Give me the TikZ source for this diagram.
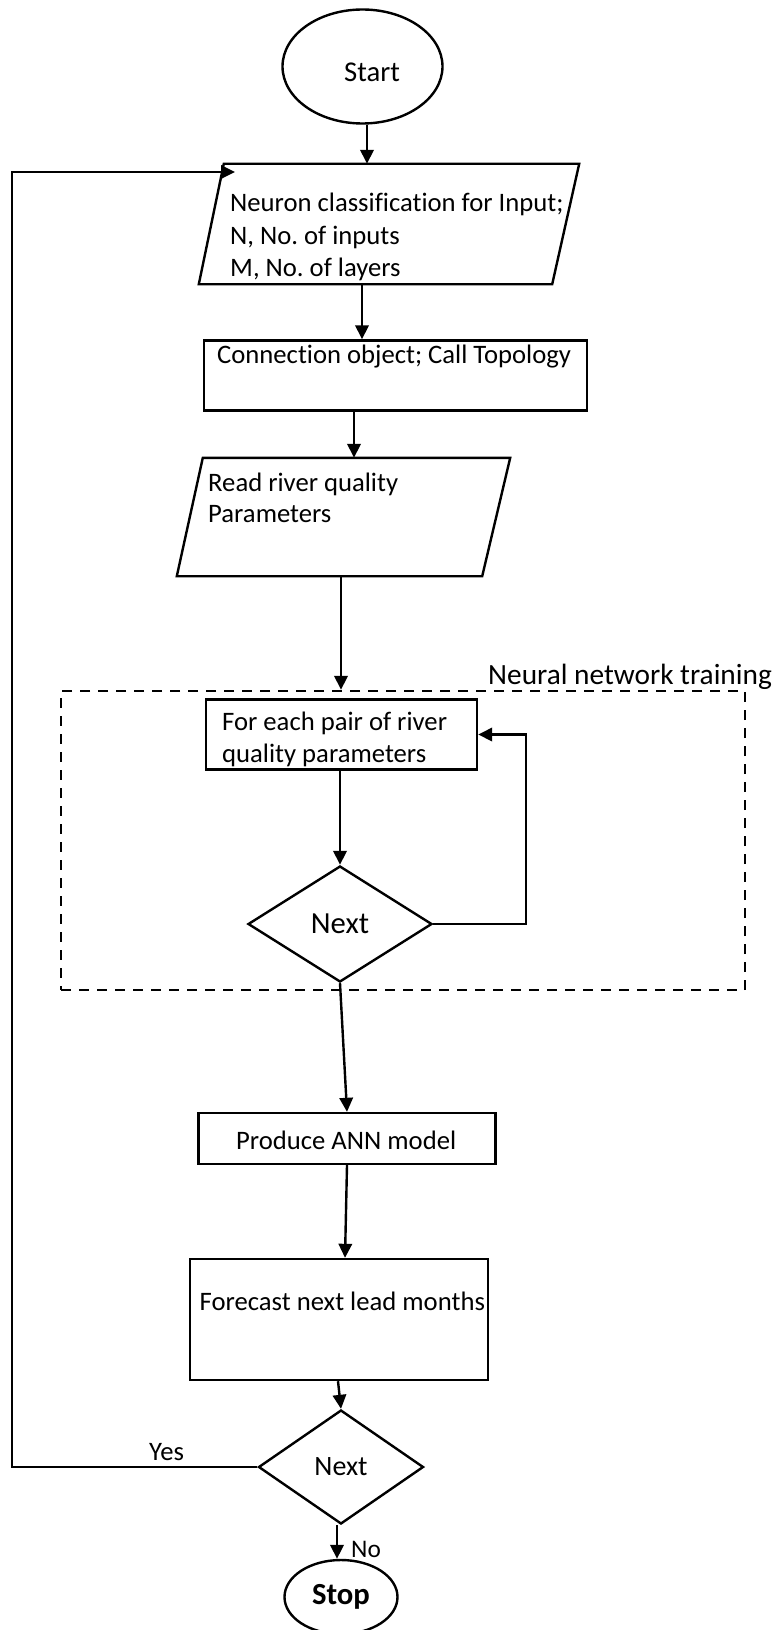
\documentclass[tikz,border=0pt]{standalone}
\usepackage{fontspec}
\setmainfont{Carlito}[Ligatures=NoCommon]
\usetikzlibrary{shapes.geometric,arrows.meta,calc}
\frenchspacing

\begin{document}
\begin{tikzpicture}[x=0.75pt,y=-0.75pt,
  line width=1.8pt,
  arr/.style={-{Triangle[length=10.5pt,width=10pt]}},
  box/.style={draw, rectangle, inner sep=0pt},
  frame/.style={rectangle, inner sep=0pt},
  term/.style={draw, ellipse, inner sep=0pt},
  decision/.style={draw, diamond, inner sep=0pt},
  txt/.style={anchor=base west, inner sep=0pt, font=\fontsize{20pt}{24pt}\selectfont},
]
\useasboundingbox (0,0) rectangle (772,1630);

% terminals, boxes and decisions
\node[term, minimum width=120pt, minimum height=85.5pt] (start) at (362.5,66.5) {};
\node[txt, font=\fontsize{21.5pt}{26pt}\selectfont] (startlbl) at (343,81.7) {Start};

% input parallelogram: frame node holds the outline's bounding box
\node[frame, minimum width=283.5pt, minimum height=88.5pt] (neuron) at (389,224) {};
\draw ($(neuron.north west)+(25,0)$) -- (neuron.north east)
      -- ($(neuron.south east)-(27,0)$) -- (neuron.south west) -- cycle;
\node[txt] (neuron1) at (229,211.7) {Neuron classification for Input;};
\node[txt] (neuron2) at (229,244.3) {N, No. of inputs};
\node[txt] (neuron3) at (229,276.7) {M, No. of layers};

\node[box, minimum width=287.25pt, minimum height=52.5pt] (conn) at (395.5,375.5) {};
\node[txt] (connlbl) at (216,363.3) {Connection object; Call Topology};

\node[frame, minimum width=248.25pt, minimum height=87pt] (read) at (343.5,517) {};
\draw ($(read.north west)+(26,0)$) -- (read.north east)
      -- ($(read.south east)-(28,0)$) -- (read.south west) -- cycle;
\node[txt] (read1) at (207,491) {Read river quality};
\node[txt] (read2) at (207,522.7) {Parameters};

% training block
\node[draw, rectangle, dash pattern=on 7.5pt off 6pt, inner sep=0pt,
      minimum width=513pt, minimum height=224.25pt] (train) at (403,840.5) {};
\node[txt, font=\fontsize{22pt}{26pt}\selectfont] (trainlbl) at (487,684) {Neural network training};

\node[box, minimum width=203.25pt, minimum height=52.5pt] (each) at (341.5,734.5) {};
\node[txt] (each1) at (221,730) {For each pair of river};
\node[txt] (each2) at (221,762) {quality parameters};

\node[decision, minimum width=138pt, minimum height=87pt,
      font=\fontsize{23pt}{27pt}\selectfont] (next1) at (340,924) {Next};

\node[box, minimum width=223pt, minimum height=38.25pt] (ann) at (347,1138.5) {};
\node[txt] (annlbl) at (235,1149) {Produce ANN model};

\node[box, minimum width=223.5pt, minimum height=90.75pt] (fc) at (339,1319.5) {};
\node[txt] (fclbl) at (198.5,1310) {Forecast next lead months};

\node[decision, minimum width=123.75pt, minimum height=85.5pt,
      font=\fontsize{21pt}{25pt}\selectfont] (next2) at (341,1467) {Next};

\node[term, minimum width=84.75pt, minimum height=55.5pt,
      font=\fontsize{23pt}{27pt}\selectfont\bfseries] (stop) at (341,1597) {Stop};

% connectors
\coordinate (loopend) at (235,172);
\draw[arr] (367,0 |- start.south) -- (367,0 |- neuron.north);
\draw[arr] (362,0 |- neuron.south) -- (362,0 |- conn.north);
\draw[arr] (354,0 |- conn.south) -- (354,0 |- read.north);
\draw[arr] (341,0 |- read.south) -- (341,0 |- train.north);
\draw[arr] (340,0 |- each.south) -- (next1.north);
\draw[arr] (next1.east) -| (526,0 |- each.east) -- (each.east);
\draw[arr] (next1.south) -- (347,0 |- ann.north);
\draw[arr] (347,0 |- ann.south) -- (345,0 |- fc.north);
\draw[arr] (338,0 |- fc.south) -- (next2.north);
\draw[arr] (337,0 |- next2.south) -- (337,0 |- stop.north);
\draw[arr] (next2.west) -- (12,0 |- next2.west) |- (loopend);

% branch labels
\node[txt] (yes) at (148,1460) {Yes};
\node[txt, font=\fontsize{19pt}{23pt}\selectfont] (no) at (350,1557) {No};
\end{tikzpicture}
\end{document}
